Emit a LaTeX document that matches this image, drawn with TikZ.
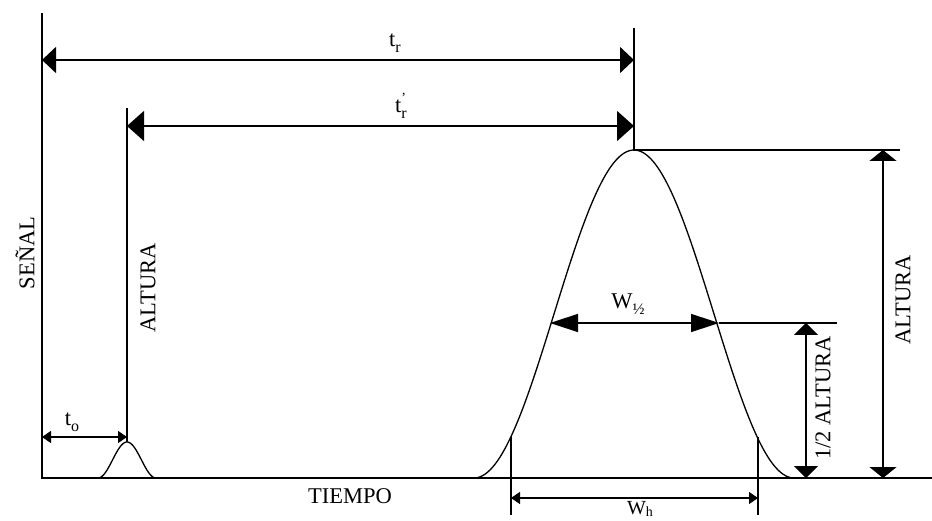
\documentclass[tikz,border=0pt]{standalone}
\usepackage{fontspec}
\setmainfont{Liberation Serif}
\usetikzlibrary{arrows.meta}
\newcommand{\sbs}[1]{\raisebox{-0.28em}{\fontsize{16}{16}\selectfont #1}}
\tikzset{
  bigtip/.tip={Triangle[length=14pt,width=26pt]},
  midtip/.tip={Triangle[length=17pt,width=30pt]},
  longtip/.tip={Triangle[length=28pt,width=18pt]},
  vtip/.tip={Triangle[length=11pt,width=27pt]},
  htip/.tip={Triangle[length=12pt,width=24pt]},
  smalltip/.tip={Triangle[length=9pt,width=12pt]}
}
\begin{document}
\begin{tikzpicture}[x=1pt,y=-1pt,line width=1.5pt,
  lbl/.style={font=\fontsize{22.5}{22.5}\selectfont, inner sep=0pt},
  vlbl/.style={lbl, rotate=90},
  curve/.style={line width=1.3pt}]
\useasboundingbox (0,0) rectangle (932,521);
% axes
\coordinate (Ytop) at (42,13);
\coordinate (O) at (42,478);
\coordinate (Xend) at (932,478);
\draw (Ytop) -- (O) -- (Xend);
% peaks
\draw[curve] plot[domain=-1:1,samples=60,smooth] ({127+29*\x},{478-18*(1+cos(180*\x))});
\draw[curve] plot[domain=-1:1,samples=120,smooth] ({634+160*\x},{478-164*(1+cos(180*\x))});
% reference lines
\coordinate (Pk) at (634,150);
\coordinate (Ptop) at (634,28);
\coordinate (Pright) at (900,150);
\coordinate (Sk) at (127,442);
\coordinate (Stop) at (127,108);
\draw (Ptop) -- (Pk) -- (Pright);
\draw (Stop) -- (Sk);
% tr
\coordinate (trL) at (42,60);
\coordinate (trR) at (634,60);
\draw[{bigtip}-{bigtip}] (trL) -- (trR);
\node[lbl] (tr) at (395,43) {t\sbs{r}};
% t'r
\coordinate (tpL) at (127,126);
\coordinate (tpR) at (634,126);
\draw[{midtip}-{midtip}] (tpL) -- (tpR);
\node[lbl] (tpr) at (401,106) {t\rlap{\raisebox{0.45em}{\fontsize{14}{14}\selectfont '}}\sbs{r}};
% t0
\coordinate (t0L) at (42,437);
\coordinate (t0R) at (127,437);
\draw[line width=1.3pt,{smalltip}-{smalltip}] (t0L) -- (t0R);
\node[lbl] (t0) at (72,422) {t\sbs{o}};
% half height
\coordinate (hL) at (550,323);
\coordinate (hR) at (719,323);
\coordinate (hEnd) at (837,323);
\draw (hR) -- (hEnd);
\draw[{longtip}-{longtip}] (hL) -- (hR);
\node[lbl] (w12) at (628,304) {W\sbs{½}};
% 1/2 altura
\coordinate (haT) at (806,323);
\coordinate (haB) at (806,478);
\draw[{htip}-{htip}] (haT) -- (haB);
\node[vlbl] (ha) at (823,398) {1/2 ALTURA};
% altura right
\coordinate (aT) at (883,150);
\coordinate (aB) at (883,478);
\draw[{vtip}-{vtip}] (aT) -- (aB);
\node[vlbl] (ar) at (903,300) {ALTURA};
% Wh
\coordinate (whLt) at (511,437);
\coordinate (whLb) at (511,515);
\coordinate (whRt) at (758,437);
\coordinate (whRb) at (758,515);
\draw[line width=1.3pt] (whLt) -- (whLb);
\draw[line width=1.3pt] (whRt) -- (whRb);
\coordinate (whA) at (511,498);
\coordinate (whB) at (758,498);
\draw[line width=1.3pt,{smalltip}-{smalltip}] (whA) -- (whB);
\node[lbl,anchor=north,font=\fontsize{20}{20}\selectfont] (wh) at (640,501) {W\raisebox{-0.1em}{\fontsize{14}{14}\selectfont h}};
% labels
\node[vlbl] (senal) at (25,253) {SEÑAL};
\node[vlbl] (altl) at (148,288) {ALTURA};
\node[lbl] (tiempo) at (350,496) {TIEMPO};
\end{tikzpicture}
\end{document}
